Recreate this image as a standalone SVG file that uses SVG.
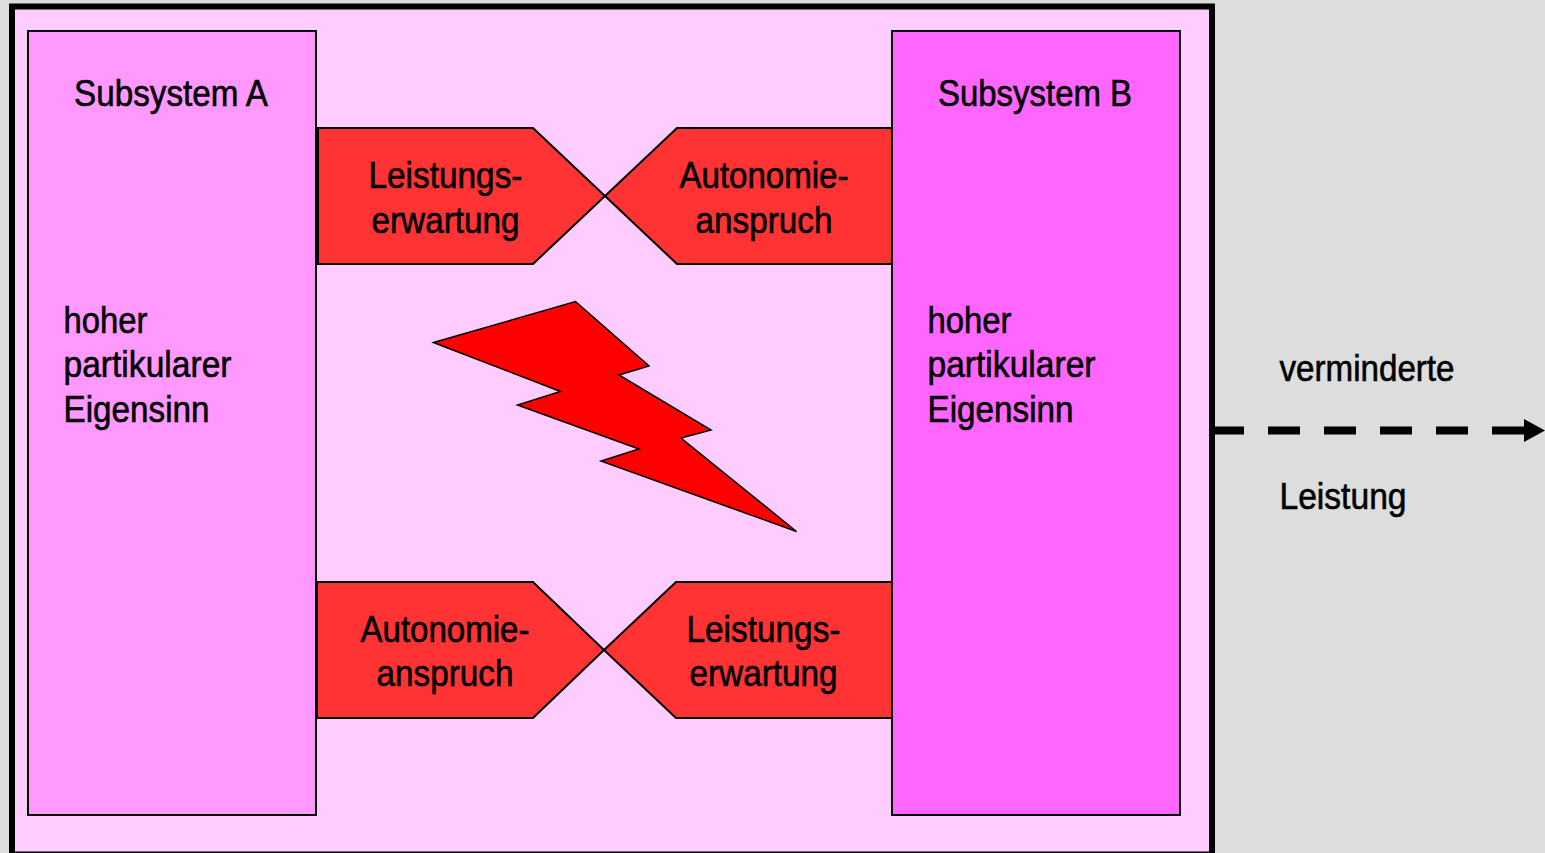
<svg xmlns="http://www.w3.org/2000/svg" width="1545" height="853" viewBox="0 0 1545 853">
<style>
text{font-family:"Liberation Sans",Arial,sans-serif;font-size:36px;fill:#000;stroke:#000;stroke-width:.6}
.s{stroke:#000;stroke-width:2}
.r{fill:#ff3333;stroke:#000;stroke-width:2}
</style>
<rect width="1545" height="853" fill="#dddddd"/>
<g id="frame"><rect x="12" y="6.5" width="1200" height="848" fill="#ffccff" stroke="#000" stroke-width="6"/></g>
<g id="subsystem-a">
<rect class="s" x="28" y="31" width="288" height="784" fill="#ff99ff"/>
<text x="74" y="106" textLength="194" lengthAdjust="spacingAndGlyphs">Subsystem A</text>
<text x="63.5" y="333" textLength="84" lengthAdjust="spacingAndGlyphs">hoher</text>
<text x="63.5" y="377" textLength="168" lengthAdjust="spacingAndGlyphs">partikularer</text>
<text x="63.5" y="422" textLength="146" lengthAdjust="spacingAndGlyphs">Eigensinn</text>
</g>
<g id="subsystem-b">
<rect class="s" x="892" y="31" width="288" height="784" fill="#ff66ff"/>
<text x="938" y="106" textLength="194" lengthAdjust="spacingAndGlyphs">Subsystem B</text>
<text x="927.5" y="333" textLength="84" lengthAdjust="spacingAndGlyphs">hoher</text>
<text x="927.5" y="377" textLength="168" lengthAdjust="spacingAndGlyphs">partikularer</text>
<text x="927.5" y="422" textLength="146" lengthAdjust="spacingAndGlyphs">Eigensinn</text>
</g>
<g id="top-left">
<polygon class="r" points="318,128 533,128 605,196 533,264 318,264"/>
<text x="368.5" y="188" textLength="154" lengthAdjust="spacingAndGlyphs">Leistungs-</text>
<text x="371.5" y="233" textLength="148" lengthAdjust="spacingAndGlyphs">erwartung</text>
</g>
<g id="top-right">
<polygon class="r" points="892,128 677,128 605,196 677,264 892,264"/>
<text x="679.5" y="188" textLength="169" lengthAdjust="spacingAndGlyphs">Autonomie-</text>
<text x="695.5" y="233" textLength="137" lengthAdjust="spacingAndGlyphs">anspruch</text>
</g>
<g id="bottom-left">
<polygon class="r" points="317,582 533,582 604,650 533,718 317,718"/>
<text x="360.5" y="642" textLength="169" lengthAdjust="spacingAndGlyphs">Autonomie-</text>
<text x="376.5" y="686" textLength="137" lengthAdjust="spacingAndGlyphs">anspruch</text>
</g>
<g id="bottom-right">
<polygon class="r" points="892,582 676,582 604,650 676,718 892,718"/>
<text x="686.5" y="642" textLength="154" lengthAdjust="spacingAndGlyphs">Leistungs-</text>
<text x="689.5" y="686" textLength="148" lengthAdjust="spacingAndGlyphs">erwartung</text>
</g>
<g id="conflict-bolt">
<polygon points="433.5,342.5 575.5,301.5 649,366 619,375 711,430 681,438 796.5,531.5 601,461 639,449 517.5,405 560.5,391.5" fill="#ff0000" stroke="#000" stroke-width="1.5"/>
</g>
<g id="connectors">
<line x1="1215" y1="430.5" x2="1524" y2="430.5" stroke="#000" stroke-width="8" stroke-dasharray="32 24" stroke-dashoffset="3"/>
<polygon points="1524,419 1545,430.5 1524,442" fill="#000"/>
</g>
<g id="performance-label">
<text x="1279.5" y="381" textLength="175" lengthAdjust="spacingAndGlyphs">verminderte</text>
<text x="1279.5" y="509" textLength="127" lengthAdjust="spacingAndGlyphs">Leistung</text>
</g>
</svg>
